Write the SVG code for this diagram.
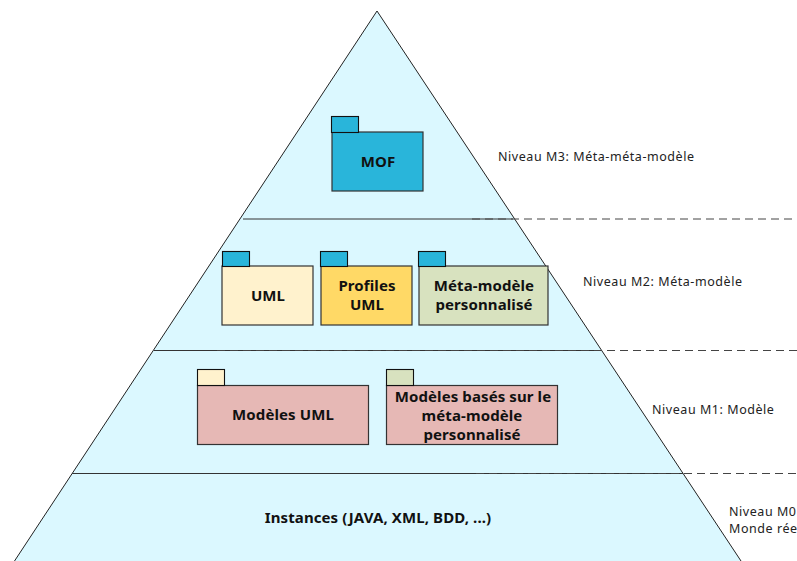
<svg xmlns="http://www.w3.org/2000/svg" width="797" height="561" viewBox="0 0 797 561">
<style>
text{font-family:"Noto Sans","Open Sans",sans-serif;fill:#111;text-anchor:middle}
.b{font-size:15px;font-weight:700;letter-spacing:.1px}
.l{font-size:12.500px;letter-spacing:.55px;text-anchor:start;fill:#222}
.box{stroke:#333;stroke-width:1.2}
.tab{stroke:#111;stroke-width:1.1}
.sep{stroke:#333;stroke-width:1;fill:none}
.dash{stroke:#444;stroke-width:1;stroke-dasharray:8 5;fill:none}
</style>
<g id="pyramid"><polygon points="377,11 741,561 14.5,561" fill="#dbf8ff"/>
<path d="M14.5,561 L377,11 L741,561" fill="none" stroke="#222" stroke-width="1"/></g>
<g id="connectors">
<path class="sep" d="M243,219H513"/><path class="dash" d="M472,219H797"/>
<path class="sep" d="M154,350.500H601"/><path class="dash" d="M217,350.500H797"/>
<path class="sep" d="M72,473.500H683"/><path class="dash" d="M476,473.500H797"/>
</g>
<g id="mof"><rect class="box" x="332" y="132" width="91" height="59" fill="#29b5da"/><rect class="tab" x="331.500" y="116.500" width="27" height="16" fill="#29b5da"/><text class="b" x="378" y="167">MOF</text></g>
<g id="uml"><rect class="box" x="222" y="266" width="91" height="59" fill="#fff2cd"/><rect class="tab" x="222.500" y="251.500" width="27" height="15" fill="#29b5da"/><text class="b" x="268" y="301">UML</text></g>
<g id="profiles"><rect class="box" x="321" y="266" width="91" height="59" fill="#ffd966"/><rect class="tab" x="320.500" y="251.500" width="27" height="15" fill="#29b5da"/><text class="b" x="367" y="291">Profiles</text><text class="b" x="367" y="310">UML</text></g>
<g id="meta"><rect class="box" x="419" y="266" width="129" height="59" fill="#d8e2bf"/><rect class="tab" x="418.500" y="251.500" width="27" height="15" fill="#29b5da"/><text class="b" x="484" y="291">Méta-modèle</text><text class="b" x="484" y="310">personnalisé</text></g>
<g id="modeles-uml"><rect class="box" x="197.500" y="385.500" width="171" height="59" fill="#e6b8b5"/><rect class="tab" x="197.500" y="369.500" width="27" height="16" fill="#fff2cd"/><text class="b" x="283" y="420">Modèles UML</text></g>
<g id="modeles-meta"><rect class="box" x="386.500" y="385.500" width="171" height="59" fill="#e6b8b5"/><rect class="tab" x="386.500" y="369.500" width="27" height="16" fill="#d8e2bf"/><text class="b" x="473" y="402">Modèles basés sur le</text><text class="b" x="472" y="421">méta-modèle</text><text class="b" x="472" y="440">personnalisé</text></g>
<g id="instances"><text class="b" x="378" y="523">Instances (JAVA, XML, BDD, ...)</text></g>
<g id="labels">
<text class="l" x="498" y="161">Niveau M3: Méta-méta-modèle</text>
<text class="l" x="583" y="286">Niveau M2: Méta-modèle</text>
<text class="l" x="652" y="414">Niveau M1: Modèle</text>
<text class="l" x="729" y="516">Niveau M0</text>
<text class="l" x="729" y="533">Monde rée</text>
</g>
</svg>
